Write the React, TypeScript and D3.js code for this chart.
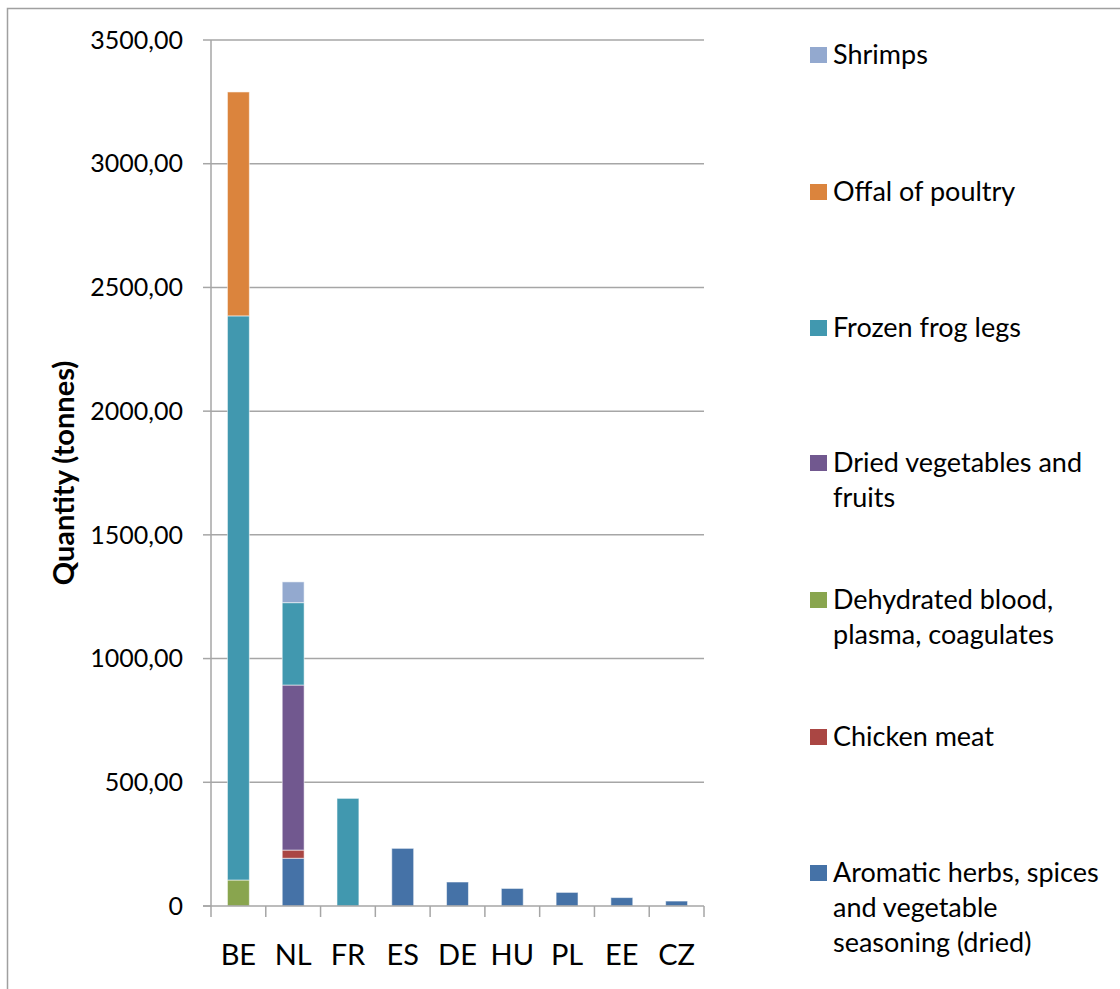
import React from "react";
import * as d3 from "d3";

const categories = ["BE", "NL", "FR", "ES", "DE", "HU", "PL", "EE", "CZ"];
const seriesNames = [
  "Aromatic herbs, spices and vegetable seasoning (dried)",
  "Chicken meat",
  "Dehydrated blood, plasma, coagulates",
  "Dried vegetables and fruits",
  "Frozen frog legs",
  "Offal of poultry",
  "Shrimps",
];
const legendLines = [
  ["Aromatic herbs, spices", "and vegetable", "seasoning (dried)"],
  ["Chicken meat"],
  ["Dehydrated blood,", "plasma, coagulates"],
  ["Dried vegetables and", "fruits"],
  ["Frozen frog legs"],
  ["Offal of poultry"],
  ["Shrimps"],
];
const aromatic = [0, 193, 0, 233, 97, 71, 55, 34, 20];
const chicken = [0, 33, 0, 0, 0, 0, 0, 0, 0];
const dehydrated = [105, 0, 0, 0, 0, 0, 0, 0, 0];
const driedVeg = [0, 667, 0, 0, 0, 0, 0, 0, 0];
const frogLegs = [2280, 333, 435, 0, 0, 0, 0, 0, 0];
const offal = [905, 0, 0, 0, 0, 0, 0, 0, 0];
const shrimps = [0, 84, 0, 0, 0, 0, 0, 0, 0];
const seriesValues = [aromatic, chicken, dehydrated, driedVeg, frogLegs, offal, shrimps];
const colors = ["#4572A7", "#AA4643", "#89A54E", "#71588F", "#4198AF", "#DB843D", "#93A9CF"];
const yTicks = [0, 500, 1000, 1500, 2000, 2500, 3000, 3500];
const yTickLabels = ["0", "500,00", "1000,00", "1500,00", "2000,00", "2500,00", "3000,00", "3500,00"];

const W = 1120;
const H = 989;
const plot = { left: 211, right: 704, top: 40, bottom: 906 };
const FONT = "Lato, 'Open Sans', sans-serif";
const GRID = "#a6a6a6";

export default function App() {
  const x = d3
    .scaleBand<string>()
    .domain(categories)
    .range([plot.left, plot.right])
    .paddingInner(0.6)
    .paddingOuter(0.3);
  const xTickScale = d3.scaleLinear().domain([0, categories.length]).range([plot.left, plot.right]);
  const y = d3.scaleLinear().domain([0, 3500]).range([plot.bottom, plot.top]);

  const table = categories.map((c, i) => {
    const row: Record<string, number | string> = { cat: c };
    seriesNames.forEach((s, k) => (row[s] = seriesValues[k][i]));
    return row;
  });
  const stack = d3.stack<Record<string, number | string>>().keys(seriesNames);
  const stacked = stack(table as any);

  const legendY = [873, 737, 600, 463, 328, 192, 55];

  return (
    <svg
      width={W}
      height={H}
      style={{ position: "absolute", left: 0, top: 0, background: "#fff" }}
      fontFamily={FONT}
    >
      <rect x={0} y={0} width={W} height={H} fill="#fff" />
      <path d={`M7.5,${H + 5} V8.5 H${W + 5}`} fill="none" stroke="#a0a0a0" strokeWidth={1.5} />

      {/* gridlines */}
      {yTicks.map((t) =>
        t === 0 ? null : (
          <line key={t} x1={plot.left} x2={plot.right} y1={y(t)} y2={y(t)} stroke={GRID} strokeWidth={1.5} />
        )
      )}

      {/* bars */}
      {stacked.map((layer, k) => (
        <g key={k} fill={colors[k]}>
          {layer.map((d, i) => {
            const h = y(d[0]) - y(d[1]);
            if (h <= 0) return null;
            return (
              <rect
                key={i}
                x={x(categories[i])}
                y={y(d[1])}
                width={x.bandwidth()}
                height={h}
                stroke="#ffffff"
                strokeOpacity={0.55}
                strokeWidth={1}
              />
            );
          })}
        </g>
      ))}

      {/* axes */}
      <line x1={plot.left} x2={plot.left} y1={plot.top} y2={plot.bottom} stroke={GRID} strokeWidth={1.5} />
      <line x1={plot.left - 8} x2={plot.right} y1={plot.bottom} y2={plot.bottom} stroke={GRID} strokeWidth={1.5} />
      {yTicks.map((t) => (
        <line key={"yt" + t} x1={plot.left - 8} x2={plot.left} y1={y(t)} y2={y(t)} stroke={GRID} strokeWidth={1.5} />
      ))}
      {d3.range(categories.length + 1).map((i) => (
        <line
          key={"xt" + i}
          x1={xTickScale(i)}
          x2={xTickScale(i)}
          y1={plot.bottom}
          y2={plot.bottom + 11}
          stroke={GRID}
          strokeWidth={1.5}
        />
      ))}

      {/* y tick labels */}
      {yTicks.map((t, i) => (
        <text key={"yl" + t} x={183} y={y(t)} dy="0.35em" textAnchor="end" fontSize={25} fill="#000">
          {yTickLabels[i]}
        </text>
      ))}

      {/* category labels */}
      {categories.map((c) => (
        <text key={c} x={x(c)! + x.bandwidth() / 2} y={965} textAnchor="middle" fontSize={29} fill="#000">
          {c}
        </text>
      ))}

      {/* y axis title */}
      <text
        transform={`translate(74,${(plot.top + plot.bottom) / 2}) rotate(-90)`}
        textAnchor="middle"
        fontSize={29}
        fontWeight="bold"
        fill="#000"
      >
        Quantity (tonnes)
      </text>

      {/* legend */}
      {seriesNames.map((s, k) => (
        <g key={s}>
          <rect x={810} y={legendY[k] - 8} width={17} height={16} fill={colors[k]} />
          {legendLines[k].map((line, j) => (
            <text key={j} x={833} y={legendY[k] + 9 + j * 35} fontSize={27} fill="#000">
              {line}
            </text>
          ))}
        </g>
      ))}
    </svg>
  );
}
